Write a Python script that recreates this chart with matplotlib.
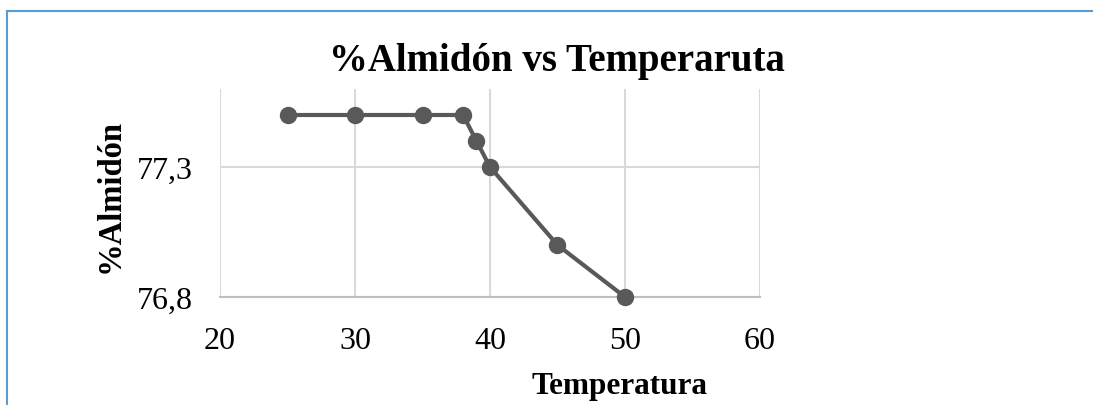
import matplotlib.pyplot as plt
from matplotlib.ticker import FuncFormatter
from matplotlib.lines import Line2D

# Data
temperatura = [25, 30, 35, 38, 39, 40, 45, 50]
almidon = [77.5, 77.5, 77.5, 77.5, 77.4, 77.3, 77.0, 76.8]

x_ticks = [20, 30, 40, 50, 60]
y_ticks = [76.8, 77.3]

plt.rcParams['font.family'] = ['Liberation Serif', 'DejaVu Serif']

fig = plt.figure(figsize=(10.93, 4.06), dpi=100)
ax = fig.add_axes([220 / 1093, 1 - 298 / 406, 540 / 1093, 208 / 406])

ax.plot(temperatura, almidon, color='#595959', linewidth=3,
        marker='o', markersize=11.5, zorder=3, clip_on=False)

ax.set_xlim(20, 60)
ax.set_ylim(76.8, 77.6)
ax.set_xticks(x_ticks)
ax.set_yticks(y_ticks)
ax.yaxis.set_major_formatter(FuncFormatter(lambda v, p: f"{v:.1f}".replace('.', ',')))
ax.grid(True, color='#d9d9d9', linewidth=1.5)
ax.set_axisbelow(True)
for s in ['top', 'right', 'left']:
    ax.spines[s].set_visible(False)
ax.spines['bottom'].set_color('#bfbfbf')
ax.spines['bottom'].set_linewidth(1.5)
ax.tick_params(length=0, labelsize=23)
ax.tick_params(axis='x', pad=21)
ax.tick_params(axis='y', pad=19.5)

fig.text(557 / 1093, 1 - 61 / 406, '%Almidón vs Temperaruta', ha='center', va='center',
         fontsize=28, fontweight='bold')
fig.text(619 / 1093, 1 - 387 / 406, 'Temperatura', ha='center', va='center',
         fontsize=22.5, fontweight='bold')
fig.text(110 / 1093, 1 - 196 / 406, '%Almidón', ha='center', va='center',
         fontsize=23.5, fontweight='bold', rotation=90)

# chart frame (top and left edges visible)
border = '#5b9bd5'
fig.add_artist(Line2D([7 / 1093, 1], [1 - 12 / 406, 1 - 12 / 406], color=border, linewidth=1.5))
fig.add_artist(Line2D([7 / 1093, 7 / 1093], [0, 1 - 12 / 406], color=border, linewidth=1.5))

fig.savefig('out.png', dpi=100)
